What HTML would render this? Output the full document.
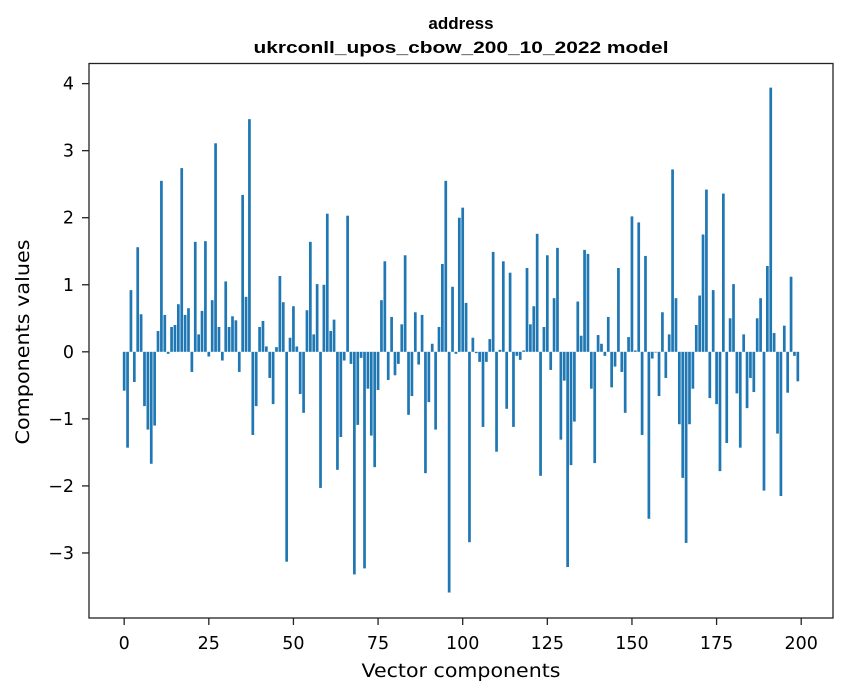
<!DOCTYPE html>
<html><head><meta charset="utf-8"><style>
html,body{margin:0;padding:0;background:#fff;}
svg{display:block;font-family:"DejaVu Sans","Liberation Sans",sans-serif;}
</style></head><body>
<svg id="chart" width="847" height="696" viewBox="0 0 847 696" xmlns="http://www.w3.org/2000/svg">
<rect width="847" height="696" fill="#fff"/>
<text x="461" y="29" text-anchor="middle" font-size="17" font-weight="bold" fill="#000" font-family="Liberation Sans, sans-serif">address</text>
<text x="461" y="53" text-anchor="middle" font-size="17" font-weight="bold" fill="#000" font-family="Liberation Sans, sans-serif" textLength="415" lengthAdjust="spacingAndGlyphs">ukrconll_upos_cbow_200_10_2022 model</text>
<g id="bars"></g>
<g id="xticks"></g>
<g id="yticks"></g>
<rect x="89" y="63.5" width="744" height="554.5" fill="none" stroke="#222" stroke-width="1.3"/>
<text x="461" y="677" text-anchor="middle" font-size="19" fill="#000" textLength="199" lengthAdjust="spacingAndGlyphs">Vector components</text>
<text transform="translate(29,342) rotate(-90)" text-anchor="middle" font-size="19" fill="#000" textLength="205" lengthAdjust="spacingAndGlyphs">Components values</text>
</svg>
<script>
const values = [
-0.58,-1.43,0.92,-0.45,1.56,0.56,-0.81,-1.16,-1.67,-1.10,
0.31,2.55,0.55,-0.03,0.37,0.40,0.71,2.74,0.55,0.65,
-0.30,1.64,0.26,0.61,1.65,-0.07,0.77,3.11,0.37,-0.13,
1.05,0.37,0.53,0.47,-0.30,2.34,0.82,3.47,-1.24,-0.81,
0.37,0.46,0.08,-0.39,-0.78,0.07,1.13,0.74,-3.13,0.21,
0.68,0.08,-0.63,-0.91,0.62,1.64,0.26,1.01,-2.03,1.00,
2.06,0.31,0.48,-1.76,-1.27,-0.13,2.03,-0.18,-3.32,-1.09,
-0.09,-3.23,-0.55,-1.25,-1.72,-0.57,0.77,1.35,-0.42,0.52,
-0.35,-0.18,0.41,1.44,-0.94,-0.66,0.59,-0.19,0.55,-1.81,
-0.75,0.12,-1.16,0.37,1.31,2.55,-3.59,0.97,-0.03,2.00,
2.15,0.73,-2.84,0.21,-0.02,-0.15,-1.12,-0.15,0.19,1.49,
-1.49,0.03,1.35,-0.85,1.18,-1.12,-0.06,-0.12,0.02,1.25,
0.41,0.68,1.76,-1.85,0.37,1.44,-0.27,0.80,1.55,-1.31,
-0.43,-3.21,-1.69,-1.04,0.75,0.24,1.52,1.46,-0.55,-1.66,
0.25,0.12,-0.06,0.52,-0.53,-0.22,1.25,-0.30,-0.91,0.22,
2.02,0.02,1.93,-1.24,1.43,-2.49,-0.10,-0.01,-0.66,0.59,
-0.39,0.26,2.72,0.80,-1.08,-1.88,-2.85,-1.08,-0.55,0.40,
0.84,1.75,2.42,-0.69,0.92,-0.78,-1.78,2.36,-1.36,0.50,
1.01,-0.62,-1.43,0.26,-0.84,-0.39,-0.60,0.50,0.80,-2.07,
1.28,3.94,0.28,-1.22,-2.15,0.39,-0.61,1.12,-0.06,-0.44
];
const xTickLabels = [0,25,50,75,100,125,150,175,200];
const yTickLabels = [-3,-2,-1,0,1,2,3,4];
const NS='http://www.w3.org/2000/svg';
const X0=89, X1=833, XMIN=-10.39, XMAX=209.39;
const Y0=63.5, Y1=618, YMAX=4.3, YMIN=-3.97;
function xs(v){return X0+(v-XMIN)/(XMAX-XMIN)*(X1-X0);}
function ys(v){return Y0+(YMAX-v)/(YMAX-YMIN)*(Y1-Y0);}
const bars=document.getElementById('bars');
values.forEach((v,i)=>{
  const r=document.createElementNS(NS,'rect');
  const l=xs(i-0.4), rr=xs(i+0.4);
  const t=ys(Math.max(v,0)), b=ys(Math.min(v,0));
  r.setAttribute('x',l);r.setAttribute('width',rr-l);
  r.setAttribute('y',t);r.setAttribute('height',Math.max(b-t,0.3));
  r.setAttribute('fill','#1f77b4');
  
  
  bars.appendChild(r);
});
const xg=document.getElementById('xticks');
xTickLabels.forEach(t=>{
  const x=xs(t);
  const ln=document.createElementNS(NS,'line');
  ln.setAttribute('x1',x);ln.setAttribute('x2',x);ln.setAttribute('y1',Y1);ln.setAttribute('y2',Y1+7);
  ln.setAttribute('stroke','#222');ln.setAttribute('stroke-width','1.3');
  
  
  xg.appendChild(ln);
  const tx=document.createElementNS(NS,'text');
  tx.setAttribute('x',x);tx.setAttribute('y',649);tx.setAttribute('text-anchor','middle');tx.setAttribute('font-size','17.5');
  tx.textContent=t;
  
  
  xg.appendChild(tx);
});
const yg=document.getElementById('yticks');
yTickLabels.forEach(t=>{
  const y=ys(t);
  const ln=document.createElementNS(NS,'line');
  ln.setAttribute('x1',X0-7);ln.setAttribute('x2',X0);ln.setAttribute('y1',y);ln.setAttribute('y2',y);
  ln.setAttribute('stroke','#222');ln.setAttribute('stroke-width','1.3');
  
  
  yg.appendChild(ln);
  const tx=document.createElementNS(NS,'text');
  tx.setAttribute('x',X0-15);tx.setAttribute('y',y+6);tx.setAttribute('text-anchor','end');tx.setAttribute('font-size','17.5');
  tx.textContent=t<0?'\u2212'+Math.abs(t):String(t);
  
  
  yg.appendChild(tx);
});
</script>
</body></html>
